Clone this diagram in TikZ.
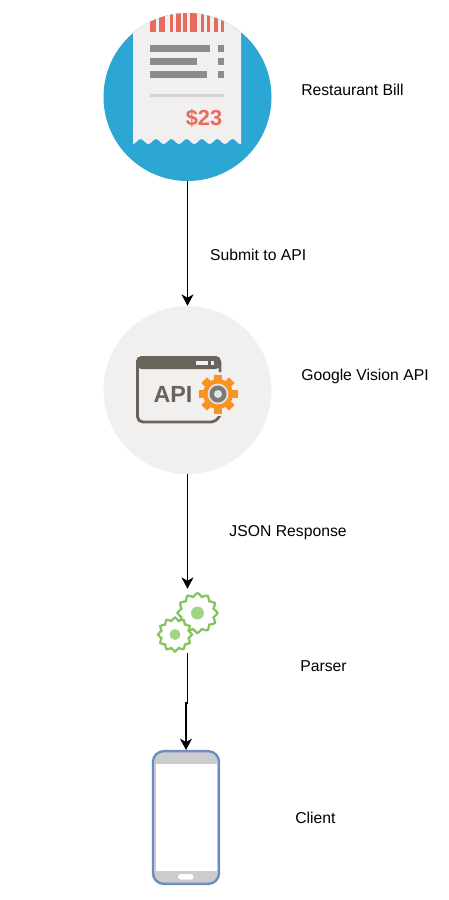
\documentclass[tikz,border=0pt]{standalone}
\usepackage{fontspec}
\setmainfont{Liberation Sans}
\usetikzlibrary{arrows.meta}
\definecolor{billblue}{HTML}{2CA7D3}
\definecolor{paper}{HTML}{F2F0EF}
\definecolor{billred}{HTML}{E8695E}
\definecolor{billgray}{HTML}{8C8C8C}
\definecolor{apigray}{HTML}{6A635C}
\definecolor{apiorange}{HTML}{F7931E}
\definecolor{geargreen}{HTML}{84C45C}
\definecolor{phoneblue}{HTML}{6C8EBF}
\definecolor{phonegray}{HTML}{CCCCCC}
\tikzset{
    disc/.style={circle, minimum size=126pt, inner sep=0pt},
    label text/.style={anchor=west, inner sep=0pt, yshift=-0.6pt, font=\fontsize{11.8pt}{13pt}\selectfont},
    flow/.style={-{Stealth[length=8.5pt, width=9pt, inset=2.5pt]}, line width=0.95pt, black},
    cog/.style={draw=geargreen, fill=white, line width=1.7pt}
}
\begin{document}
\begin{tikzpicture}[x=0.75pt, y=-0.75pt]
    \useasboundingbox (0,0) rectangle (449,900);

    % Restaurant bill
    \node[disc, fill=billblue] (bill) at (187.5,97) {};
    \begin{scope}
        \clip (187.5,97) circle (84);
        \fill[paper] (133,0) -- (241,0) -- (241,141)
            -- plot[domain=241:133, samples=57] (\x, {141.5+2.5*cos((\x-133)*23.5)}) -- cycle;
        \foreach \a/\b in {150/156, 159/165, 170/173, 176/181, 183/187, 190/197, 201/204, 207/210, 214/218, 221/224}
            \fill[billred] (\a,10) rectangle (\b,31.5);
    \end{scope}
    \foreach \a/\b in {45/210, 58/197, 71/207} {
        \fill[billgray] (150,\a) rectangle (\b,\a+6.5);
        \fill[billgray] (218,\a) rectangle (224,\a+6.5);
    }
    \fill[black!17] (150,93.5) rectangle (224,96.5);
    \node[text=billred, font=\fontsize{16.3pt}{16pt}\bfseries\selectfont] (price) at (204,118) {\$23};
    \node[label text] (billlabel) at (301,89) {Restaurant Bill};

    % Google Vision API
    \node[disc, fill=paper] (vision) at (187.5,390) {};
    \draw[apigray, line width=2.1pt, rounded corners=4pt] (220,378) -- (220,357.5) -- (137.5,357.5) -- (137.5,422) -- (216,422) -- (220,415);
    \fill[apigray, rounded corners=4pt] (136,356) rectangle (221,369);
    \fill[paper] (196,361) rectangle (208,364.5);
    \fill[paper] (211,360.5) rectangle (213.5,364.5);
    \node[text=apigray, font=\fontsize{17.5pt}{17pt}\bfseries\selectfont] (apitext) at (173,394) {API};
    \fill[paper] (218,394) circle (22);
    \foreach \a in {0,45,...,315}
        \fill[apiorange, rotate around={\a:(218,394)}] (214,374.5) rectangle (222,382);
    \fill[apiorange] (218,394) circle (15);
    \fill[black!12] (218,394) circle (10.5);
    \fill[apigray!85] (218,394) circle (8.5);
    \fill[black!10] (218,394) circle (4);
    \node[label text] (visionlabel) at (301,376) {Google Vision API};

    % Parser
    \node[minimum width=49.5pt, minimum height=48pt, inner sep=0pt] (parser) at (187.5,621) {};
    \draw[cog] plot[smooth cycle, domain=0:352.5, samples=48] ({197.5+(18.3+1.7*cos(12*\x))*cos(\x)}, {613+(18.3+1.7*cos(12*\x))*sin(\x)});
    \fill[geargreen!75] (197.5,613) circle (6.5);
    \draw[cog] plot[smooth cycle, domain=0:352.5, samples=48] ({175+(15.5+1.5*cos(12*\x))*cos(\x)}, {634.5+(15.5+1.5*cos(12*\x))*sin(\x)});
    \fill[geargreen!75] (175,634.5) circle (5.5);
    \node[label text] (parserlabel) at (300,665) {Parser};

    % Client
    \node[draw=phoneblue, fill=phonegray, line width=1.8pt, rounded corners=8pt, minimum width=49.5pt, minimum height=99.5pt, inner sep=0pt] (client) at (186,817.5) {};
    \fill[white] (155.5,764) rectangle (216.5,871);
    \fill[white, rounded corners=2pt] (178,874) rectangle (193.5,879.5);
    \node[label text] (clientlabel) at (295,817) {Client};

    % Connectors
    \coordinate (jogtop) at (187.5,703);
    \coordinate (jogend) at (186,703);
    \draw[flow] (bill.south) -- (vision.north) node[pos=.585, label text, xshift=16.5pt, text=black] (submit) {Submit to API};
    \draw[flow] (vision.south) -- (parser.north) node[midway, label text, xshift=31pt, text=black] (json) {JSON Response};
    \draw[flow] (parser.south) -- (jogtop) -- (jogend) -- (client.north);
\end{tikzpicture}
\end{document}
